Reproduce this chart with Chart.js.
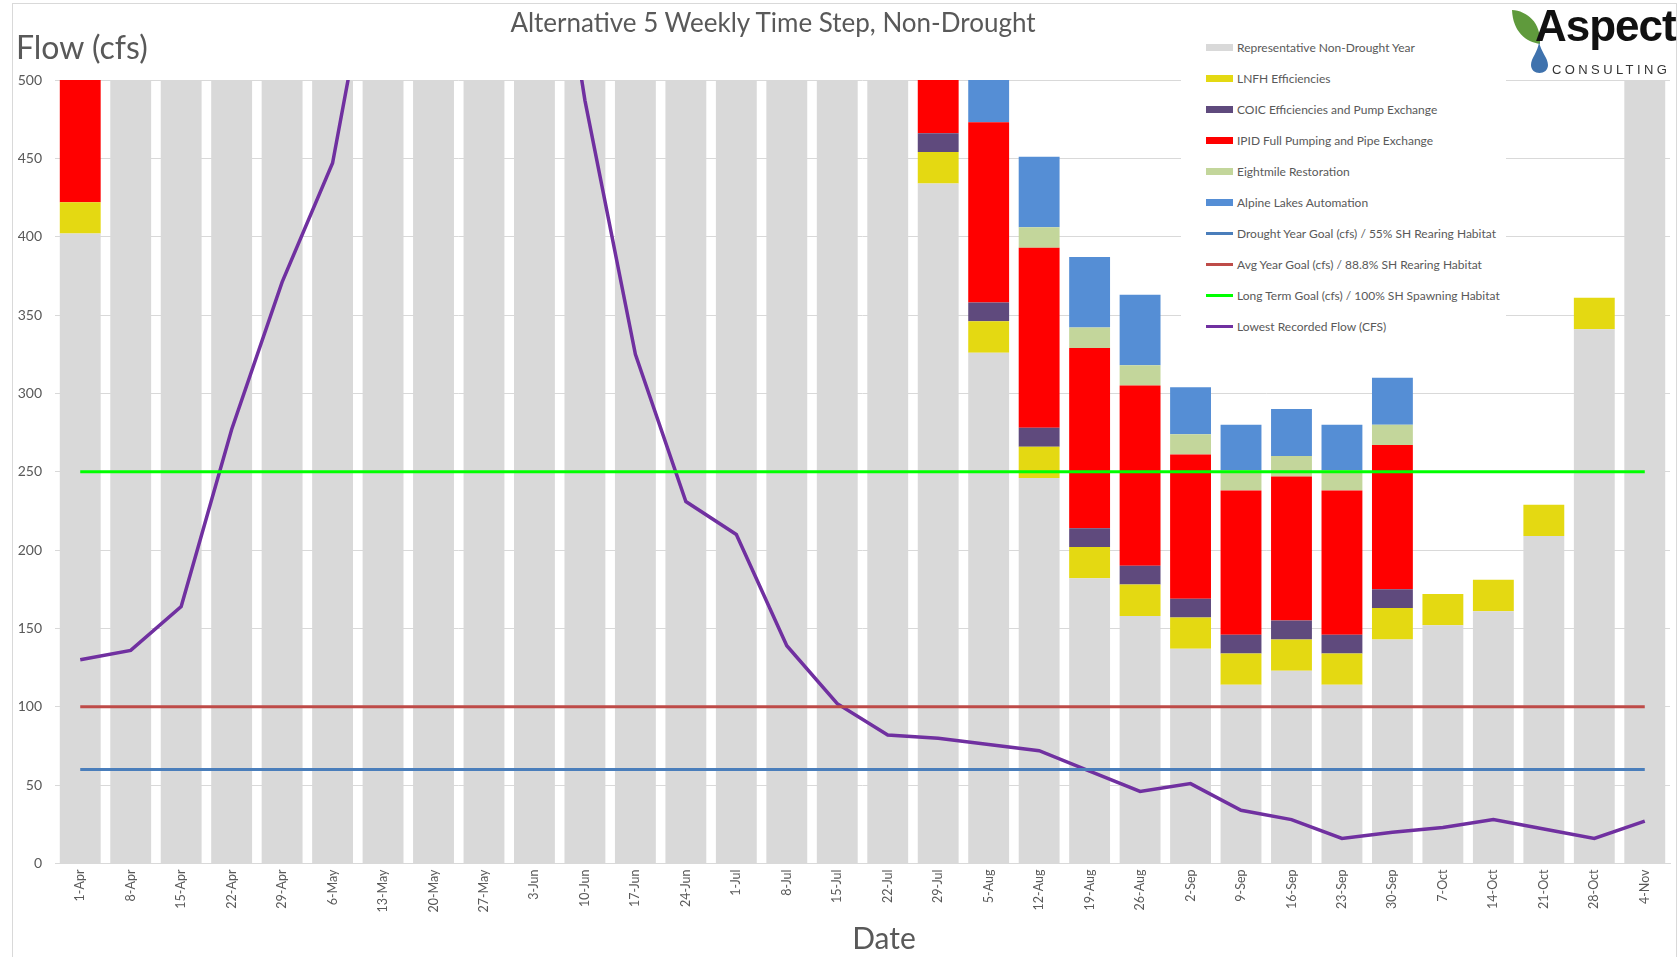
<!DOCTYPE html>
<html>
<head>
<meta charset="utf-8">
<title>Alternative 5 Weekly Time Step, Non-Drought</title>
<script src="https://cdn.jsdelivr.net/npm/chart.js@4.4.1/dist/chart.umd.min.js"></script>
<style>
  html, body { margin: 0; padding: 0; background: #fff; }
  #wrap { position: relative; width: 1678px; height: 957px; font-family: Lato, "Open Sans", sans-serif; color: #595959; overflow: hidden; }
  #frame { position: absolute; left: 12px; top: 3px; width: 1665px; height: 960px; border: 1px solid #d9d9d9; box-sizing: border-box; }
  #chart { position: absolute; left: 0; top: 0; }
  .title { position: absolute; left: 773px; top: 22px; transform: translate(-50%, -50%); font-size: 26px; white-space: nowrap; }
  .ytitle { position: absolute; left: 16px; top: 46px; transform: translateY(-50%); font-size: 32px; white-space: nowrap; }
  .xtitle { position: absolute; left: 884px; top: 937px; transform: translate(-50%, -50%); font-size: 30px; white-space: nowrap; }
  #legend { position: absolute; left: 1181px; top: 30px; width: 325px; height: 312px; background: #fff; }
  .item { position: absolute; left: 25px; height: 20px; display: flex; align-items: center; font-size: 12px; white-space: nowrap; }
  .swatch { width: 27px; margin-right: 4px; }
  #logo { position: absolute; left: 1505px; top: 0; width: 173px; height: 80px; }
  .aspect { position: absolute; left: 30px; top: 1px; font-family: "Liberation Sans", Arial, sans-serif; font-weight: bold; font-size: 44px; color: #111; letter-spacing: -1px; }
  .consulting { position: absolute; left: 47px; top: 62px; font-family: "Liberation Sans", Arial, sans-serif; font-size: 13px; color: #333; letter-spacing: 3.4px; }
</style>
</head>
<body>
<div id="wrap">
  <div id="frame"></div>
  <canvas id="chart" width="1678" height="957"></canvas>
  <div class="title">Alternative 5 Weekly Time Step, Non-Drought</div>
  <div class="ytitle">Flow (cfs)</div>
  <div class="xtitle">Date</div>
  <div id="legend"></div>
  <div id="logo">
    <svg width="50" height="80" style="position:absolute;left:0;top:0">
      <path d="M7 10 C 22 11, 36 22, 35 44 C 21 42, 8 32, 7 10 Z" fill="#5f9a3c"/>
      <path d="M34 42 C 36 52, 43 58, 43 65 C 43 70, 39 73, 34.5 73 C 30 73, 26 70, 26 65 C 26 58, 33 52, 34 42 Z" fill="#3f72ad"/>
    </svg>
    <div class="aspect">Aspect</div>
    <div class="consulting">CONSULTING</div>
  </div>
</div>
<script>
const weeks = ['1-Apr', '8-Apr', '15-Apr', '22-Apr', '29-Apr', '6-May', '13-May', '20-May', '27-May', '3-Jun',
  '10-Jun', '17-Jun', '24-Jun', '1-Jul', '8-Jul', '15-Jul', '22-Jul', '29-Jul', '5-Aug', '12-Aug',
  '19-Aug', '26-Aug', '2-Sep', '9-Sep', '16-Sep', '23-Sep', '30-Sep', '7-Oct', '14-Oct', '21-Oct', '28-Oct', '4-Nov'];

// bars that run past 500 are cut off in the source, those values are rough guesses
const representativeYear = [402, 640, 760, 900, 1100, 1300, 1500, 1600, 1500, 1400,
  1200, 1000, 850, 750, 650, 580, 530, 434, 326, 246,
  182, 158, 137, 114, 123, 114, 143, 152, 161, 209, 341, 560];
const lnfhEfficiencies = [20, 0, 0, 0, 0, 0, 0, 0, 0, 0,
  0, 0, 0, 0, 0, 0, 0, 20, 20, 20,
  20, 20, 20, 20, 20, 20, 20, 20, 20, 20, 20, 0];
const coicEfficiencies = [0, 0, 0, 0, 0, 0, 0, 0, 0, 0,
  0, 0, 0, 0, 0, 0, 0, 12, 12, 12,
  12, 12, 12, 12, 12, 12, 12, 0, 0, 0, 0, 0];
const ipidPumping = [115, 0, 0, 0, 0, 0, 0, 0, 0, 0,
  0, 0, 0, 0, 0, 0, 0, 115, 115, 115,
  115, 115, 92, 92, 92, 92, 92, 0, 0, 0, 0, 0];
const eightmileRestoration = [0, 0, 0, 0, 0, 0, 0, 0, 0, 0,
  0, 0, 0, 0, 0, 0, 0, 13, 0, 13,
  13, 13, 13, 13, 13, 13, 13, 0, 0, 0, 0, 0];
const alpineLakes = [0, 0, 0, 0, 0, 0, 0, 0, 0, 0,
  0, 0, 0, 0, 0, 0, 0, 45, 45, 45,
  45, 45, 30, 29, 30, 29, 30, 0, 0, 0, 0, 0];

const droughtGoal = [60, 60, 60, 60, 60, 60, 60, 60, 60, 60, 60, 60, 60, 60, 60, 60,
  60, 60, 60, 60, 60, 60, 60, 60, 60, 60, 60, 60, 60, 60, 60, 60];
const avgYearGoal = [100, 100, 100, 100, 100, 100, 100, 100, 100, 100, 100, 100, 100, 100, 100, 100,
  100, 100, 100, 100, 100, 100, 100, 100, 100, 100, 100, 100, 100, 100, 100, 100];
const longTermGoal = [250, 250, 250, 250, 250, 250, 250, 250, 250, 250, 250, 250, 250, 250, 250, 250,
  250, 250, 250, 250, 250, 250, 250, 250, 250, 250, 250, 250, 250, 250, 250, 250];
const lowestRecorded = [130, 136, 164, 277, 371, 447, 620, 760, 740, 692,
  487, 325, 231, 210, 139, 102, 82, 80, 76, 72,
  59, 46, 51, 34, 28, 16, 20, 23, 28, 22, 16, 27];

const yTicks = [0, 50, 100, 150, 200, 250, 300, 350, 400, 450, 500];

const textGray = '#595959';

function barSet(label, data, color) {
  return { type: 'bar', label, data, backgroundColor: color, stack: 'flow', order: 2,
    categoryPercentage: 0.81, barPercentage: 1 };
}
function lineSet(label, data, color, width) {
  return { type: 'line', label, data, borderColor: color, backgroundColor: color, borderWidth: width,
    pointRadius: 0, tension: 0, stack: label, order: 1 };
}

const chart = new Chart('chart', {
  type: 'bar',
  data: {
    labels: weeks,
    datasets: [
      barSet('Representative Non-Drought Year', representativeYear, '#d9d9d9'),
      barSet('LNFH Efficiencies', lnfhEfficiencies, '#e4d912'),
      barSet('COIC Efficiencies and Pump Exchange', coicEfficiencies, '#5f4a7d'),
      barSet('IPID Full Pumping and Pipe Exchange', ipidPumping, '#ff0000'),
      barSet('Eightmile Restoration', eightmileRestoration, '#c3d69b'),
      barSet('Alpine Lakes Automation', alpineLakes, '#558ed5'),
      lineSet('Drought Year Goal (cfs) / 55% SH Rearing Habitat', droughtGoal, '#4a7ebb', 3),
      lineSet('Avg Year Goal (cfs) / 88.8% SH Rearing Habitat', avgYearGoal, '#be4b48', 3),
      lineSet('Long Term Goal (cfs) / 100% SH Spawning Habitat', longTermGoal, '#00ff00', 3),
      lineSet('Lowest Recorded Flow (CFS)', lowestRecorded, '#7030a0', 3.5)
    ]
  },
  options: {
    responsive: false,
    devicePixelRatio: 1,
    animation: false,
    layout: { padding: { top: 80, right: 8, bottom: 0, left: 0 } },
    plugins: {
      legend: { display: false },
      title: { display: false },
      tooltip: { enabled: false }
    },
    scales: {
      x: {
        stacked: true,
        offset: true,
        grid: { display: false, drawTicks: false },
        border: { display: true, color: '#d9d9d9', width: 1 },
        ticks: { color: textGray, font: { family: 'Lato', size: 12.5 }, minRotation: 90, maxRotation: 90, autoSkip: false, padding: 6 },
        afterFit: scale => { scale.height = 93.5; }
      },
      y: {
        stacked: true,
        min: 0,
        max: 500,
        afterBuildTicks: scale => { scale.ticks = yTicks.map(v => ({ value: v })); },
        grid: { color: '#d9d9d9', drawTicks: false },
        border: { display: false },
        ticks: { color: textGray, font: { family: 'Lato', size: 14 }, padding: 13 },
        afterFit: scale => { scale.width = 55; }
      }
    }
  }
});

const legendBox = document.getElementById('legend');
chart.data.datasets.forEach((ds, i) => {
  const row = document.createElement('div');
  row.className = 'item';
  row.style.top = (7.7 + i * 31.0) + 'px';
  const sw = document.createElement('div');
  sw.className = 'swatch';
  if (ds.type === 'bar') {
    sw.style.height = '7px';
    sw.style.background = ds.backgroundColor;
  } else {
    sw.style.height = '3px';
    sw.style.background = ds.borderColor;
  }
  row.appendChild(sw);
  row.appendChild(document.createTextNode(ds.label));
  legendBox.appendChild(row);
});
</script>
</body>
</html>
